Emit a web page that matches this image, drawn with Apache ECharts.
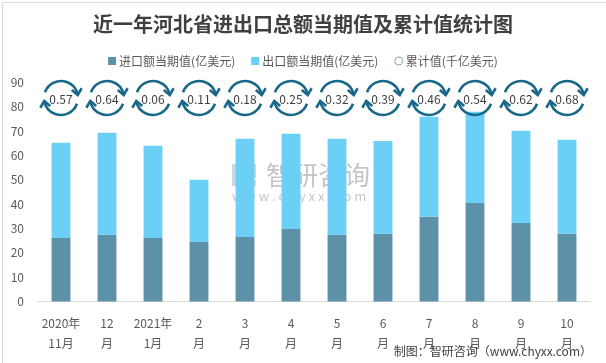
<!DOCTYPE html>
<html>
<head>
<meta charset="utf-8">
<script src="https://cdn.jsdelivr.net/npm/echarts@6/dist/echarts.min.js"></script>
<style>
html,body{margin:0;padding:0;background:#fff;}
#chart{width:606px;height:363px;}
</style>
</head>
<body>
<div id="chart"></div>
<script>
const categories = ['2020年\n11月','12\n月','2021年\n1月','2\n月','3\n月','4\n月','5\n月','6\n月','7\n月','8\n月','9\n月','10\n月'];
const importValues = [26.1, 27.4, 26.1, 24.5, 26.5, 29.8, 27.4, 27.8, 34.8, 40.5, 32.3, 27.8];
const exportValues = [39.1, 41.9, 37.9, 25.5, 40.4, 39.1, 39.5, 38.2, 41.1, 37.5, 37.9, 38.7];
const cumulativeValues = [0.57, 0.64, 0.06, 0.11, 0.18, 0.25, 0.32, 0.39, 0.46, 0.54, 0.62, 0.68];
const yMin = 0, yMax = 90, yInterval = 10;

const FONT = '"Noto Sans CJK SC", "Noto Sans", sans-serif';
const ARROW = '#19688A';

const chart = echarts.init(document.getElementById('chart'), null, {renderer: 'canvas'});

function deg(a){ return a * Math.PI / 180; }

function arrowHead(cx, cy, r, angleDeg) {
  const t = deg(angleDeg);
  const ex = cx + r * Math.cos(t), ey = cy + r * Math.sin(t);
  const dx = -Math.sin(t), dy = Math.cos(t);   // clockwise tangent
  const nx = Math.cos(t), ny = Math.sin(t);    // radial
  const L = 6, W = 5;
  return {
    type: 'polyline',
    shape: {points: [
      [ex - L * dx + W * nx, ey - L * dy + W * ny],
      [ex, ey],
      [ex - L * dx - W * nx, ey - L * dy - W * ny]
    ]},
    style: {stroke: ARROW, lineWidth: 2.6, fill: null}
  };
}

function renderCircle(params, api) {
  const idx = api.value(0);
  const x = api.coord([idx, 0])[0];
  const cs = params.coordSys;
  const cy = cs.y + 15.5;
  const r = 17;
  return {
    type: 'group',
    children: [
      {type: 'arc', shape: {cx: x, cy: cy, r: r, startAngle: deg(200), endAngle: deg(350), clockwise: true},
       style: {stroke: ARROW, lineWidth: 2.6, fill: null}},
      {type: 'arc', shape: {cx: x, cy: cy, r: r, startAngle: deg(20), endAngle: deg(170), clockwise: true},
       style: {stroke: ARROW, lineWidth: 2.6, fill: null}},
      arrowHead(x, cy, r, 350),
      arrowHead(x, cy, r, 170),
      {type: 'text', style: {text: api.value(1).toFixed(2), x: x, y: cy + 1, align: 'center', verticalAlign: 'middle',
        fill: '#404040', fontSize: 12, fontFamily: FONT}}
    ]
  };
}

const option = {
  backgroundColor: '#fff',
  animation: false,
  title: {
    text: '近一年河北省进出口总额当期值及累计值统计图',
    left: 'center', top: 9,
    textStyle: {fontSize: 20, fontWeight: 'bold', color: '#404040', fontFamily: '"Noto Sans CJK SC", sans-serif'}
  },
  legend: {
    top: 50, left: 'center', itemWidth: 8, itemHeight: 8, itemGap: 16,
    textStyle: {fontSize: 12, color: '#595959', fontFamily: FONT, padding: [0, 0, 0, -2]},
    data: [
      {name: '进口额当期值(亿美元)', icon: 'rect'},
      {name: '出口额当期值(亿美元)', icon: 'rect'},
      {name: '累计值(千亿美元)', icon: 'circle', itemStyle: {color: '#fff', borderColor: '#8AA5B8', borderWidth: 1}}
    ]
  },
  grid: {left: 38, right: 16, top: 82.5, bottom: 61.5, containLabel: false},
  xAxis: {
    type: 'category', data: categories,
    axisLine: {lineStyle: {color: '#d9d9d9', width: 1}},
    axisTick: {show: false},
    axisLabel: {color: '#595959', fontSize: 12, fontFamily: FONT, lineHeight: 20, margin: 12, interval: 0}
  },
  yAxis: {
    type: 'value', min: yMin, max: yMax, interval: yInterval,
    axisLine: {show: false}, axisTick: {show: false}, splitLine: {show: false},
    axisLabel: {color: '#595959', fontSize: 12, fontFamily: FONT, margin: 14}
  },
  series: [
    {name: '进口额当期值(亿美元)', type: 'bar', stack: 'total', data: importValues, barWidth: '41%',
     itemStyle: {color: '#5C91A8'}},
    {name: '出口额当期值(亿美元)', type: 'bar', stack: 'total', data: exportValues, barWidth: '41%',
     itemStyle: {color: '#6BCFF6'}},
    {name: '累计值(千亿美元)', type: 'custom', renderItem: renderCircle, clip: false, z: 5,
     itemStyle: {color: '#8AA5B8'},
     encode: {x: 0, y: 1},
     data: cumulativeValues.map((v, i) => [i, v])}
  ],
  graphic: [
    {type: 'rect', left: 0, top: 0, shape: {x: 0.5, y: 0.5, width: 605, height: 362},
     style: {fill: null, stroke: '#d9d9d9', lineWidth: 1}, silent: true, z: -1},
    {type: 'group', left: 232, top: 162, silent: true, z: 10, children: [
      {type: 'rect', shape: {x: 0, y: 0, width: 8, height: 22}, style: {fill: 'rgba(140,170,195,0.45)'}},
      {type: 'rect', shape: {x: 10, y: 0, width: 14, height: 6}, style: {fill: 'rgba(140,170,195,0.45)'}},
      {type: 'rect', shape: {x: 18, y: 6, width: 6, height: 8}, style: {fill: 'rgba(140,170,195,0.45)'}},
      {type: 'rect', shape: {x: 10, y: 16, width: 14, height: 6}, style: {fill: 'rgba(140,170,195,0.45)'}},
      {type: 'text', style: {text: '智研咨询', x: 34, y: 11, verticalAlign: 'middle', fill: 'rgba(150,150,150,0.55)',
        fontSize: 26, fontFamily: FONT}},
      {type: 'text', style: {text: 'w w w . c h y x x . c o m', x: 0, y: 32, verticalAlign: 'middle', fill: 'rgba(150,150,150,0.55)',
        fontSize: 13, fontFamily: FONT}}
    ]},
    {type: 'text', right: 14, top: 345, silent: true,
     style: {text: '制图：智研咨询（www.chyxx.com）', fill: '#404040', fontSize: 12, fontFamily: FONT}}
  ]
};
chart.setOption(option);
</script>
</body>
</html>
